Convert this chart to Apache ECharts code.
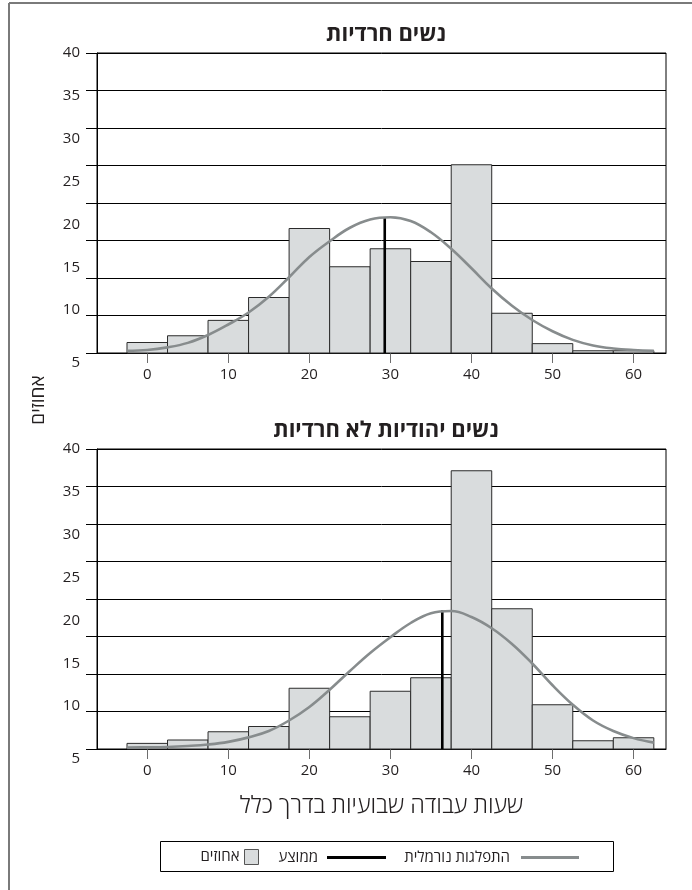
<!DOCTYPE html>
<html>
<head>
<meta charset="utf-8">
<script src="https://cdn.jsdelivr.net/npm/echarts@6/dist/echarts.min.js"></script>
<style>
html,body{margin:0;padding:0;background:#fff;}
#chart{width:692px;height:890px;}
</style>
</head>
<body>
<div id="chart"></div>
<script>
// ---------- data ----------
const binCenters = [0, 5, 10, 15, 20, 25, 30, 35, 40, 45, 50, 55, 60];
const binWidth = 5;
const harediPct    = [1.4, 2.3, 4.35, 7.4, 16.6, 11.5, 13.9, 12.2, 25.1, 5.3, 1.25, 0.3, 0.3];
const nonHarediPct = [0.75, 1.2, 2.3, 3.0, 8.1, 4.3, 7.7, 9.5, 37.1, 18.7, 5.9, 1.1, 1.5];

const curveX = [-2.5, 0, 2.5, 5, 7.5, 10, 12.5, 15, 17.5, 20, 22.5, 25, 27.5, 30, 32.5, 35, 37.5, 40, 42.5, 45, 47.5, 50, 52.5, 55, 57.5, 60, 62.5];
const harediCurve    = [0.3, 0.4, 0.75, 1.35, 2.4, 3.8, 5.4, 7.5, 10.1, 12.8, 14.9, 16.7, 17.8, 18.1, 17.6, 16.1, 13.9, 11.3, 8.6, 6.3, 4.4, 2.9, 1.75, 1.0, 0.6, 0.4, 0.3];
const nonHarediCurve = [0.2, 0.22, 0.27, 0.4, 0.6, 0.95, 1.55, 2.4, 3.8, 5.6, 7.9, 10.4, 12.8, 14.9, 16.8, 18.1, 18.4, 17.6, 16.1, 14.0, 11.4, 8.5, 5.9, 3.8, 2.4, 1.45, 0.85];

const harediMean = 29.3, harediMeanTop = 18.15;
const nonHarediMean = 36.4, nonHarediMeanTop = 18.5;

const xTicks = [0, 10, 20, 30, 40, 50, 60];
const titles = ['נשים חרדיות', 'נשים יהודיות לא חרדיות'];
const yName = 'אחוזים';
const xName = 'שעות עבודה שבועיות בדרך כלל';
const nameBars = 'אחוזים', nameMean = 'ממוצע', nameCurve = 'התפלגות נורמלית';

// ---------- styling ----------
const FONT = '"Open Sans", "DejaVu Sans", "Liberation Sans", sans-serif';
const TXT = '#231f20';
const BAR_FILL = '#d9dcdd';
const CURVE = '#878c8d';

const gridTops = [53, 449];
const PLOT_H = 300;

function xAxisFor(i, withName) {
  const ax = {
    gridIndex: i, type: 'value', min: -6.2, max: 64,
    axisLine: {show: true, onZero: false, lineStyle: {color: '#000', width: 1}},
    axisTick: {show: true, customValues: xTicks, length: 10, lineStyle: {color: '#6d6d6d', width: 1}},
    axisLabel: {customValues: xTicks, margin: 14, fontSize: 15, color: TXT, fontFamily: FONT},
    splitLine: {show: false}
  };
  if (withName) {
    ax.name = xName;
    ax.nameLocation = 'middle';
    ax.nameGap = 45;
    ax.nameTextStyle = {fontSize: 23.5, color: TXT, fontFamily: FONT, fontWeight: 300};
  }
  return ax;
}
function yGridAxis(i) {
  return {
    gridIndex: i, type: 'value', min: 0, max: 40, interval: 5, position: 'left',
    axisLine: {show: true, onZero: false, lineStyle: {color: '#000', width: 1}},
    axisTick: {show: true, length: 11, lineStyle: {color: '#000', width: 1}},
    axisLabel: {show: false},
    splitLine: {show: true, lineStyle: {color: '#000', width: 1}}
  };
}
function yLabelAxis(i) {
  return {
    gridIndex: i, type: 'value', min: 5, max: 40, interval: 5, position: 'left',
    axisLine: {show: false, onZero: false}, axisTick: {show: false}, splitLine: {show: false},
    axisLabel: {
      margin: 17, fontSize: 15, color: TXT, fontFamily: FONT,
      formatter: v => v === 5 ? '{low|5}' : String(v),
      rich: {low: {padding: [20, 0, 0, 0], fontSize: 15, color: TXT, fontFamily: FONT}}
    }
  };
}
function barSeries(i, values) {
  return {
    name: nameBars, type: 'custom', xAxisIndex: i, yAxisIndex: i * 2,
    itemStyle: {color: BAR_FILL, borderColor: '#2b2b2b', borderWidth: 1},
    data: binCenters.map((c, k) => [c, values[k]]),
    renderItem: (params, api) => {
      const c = api.value(0), v = api.value(1);
      const p1 = api.coord([c - binWidth / 2, v]);
      const p2 = api.coord([c + binWidth / 2, 0]);
      return {
        type: 'rect',
        shape: {x: p1[0], y: p1[1], width: p2[0] - p1[0], height: p2[1] - p1[1]},
        style: {fill: BAR_FILL, stroke: '#2b2b2b', lineWidth: 1}
      };
    },
    z: 2
  };
}
function meanSeries(i, m, top) {
  return {
    name: nameMean, type: 'line', xAxisIndex: i, yAxisIndex: i * 2,
    data: [[m, 0], [m, top]], symbol: 'none', showSymbol: false,
    lineStyle: {color: '#000', width: 2.6}, itemStyle: {color: '#000'}, z: 3
  };
}
function curveSeries(i, ys) {
  return {
    name: nameCurve, type: 'line', xAxisIndex: i, yAxisIndex: i * 2,
    data: curveX.map((x, k) => [x, ys[k]]), symbol: 'none', showSymbol: false, smooth: 0.4,
    lineStyle: {color: CURVE, width: 2.6}, itemStyle: {color: CURVE}, z: 4
  };
}

const legendText = {fontSize: 15, color: TXT, fontFamily: FONT};
const option = {
  animation: false,
  backgroundColor: '#fff',
  title: titles.map((t, i) => ({
    text: t, left: 381, top: gridTops[i] - 34, textAlign: 'center',
    textStyle: {fontSize: 22, fontWeight: 'bold', color: TXT, fontFamily: FONT}
  })),
  grid: gridTops.map(t => ({
    left: 97, right: 26, top: t, height: PLOT_H,
    show: true, borderColor: '#000', borderWidth: 1, backgroundColor: 'transparent'
  })),
  xAxis: [xAxisFor(0, false), xAxisFor(1, true)],
  yAxis: [yGridAxis(0), yLabelAxis(0), yGridAxis(1), yLabelAxis(1)],
  legend: [
    {data: [{name: nameCurve, icon: 'rect', itemStyle: {color: CURVE}}], right: 113, top: 850, itemWidth: 58, itemHeight: 3, itemGap: 0,
     align: 'right', padding: 0, selectedMode: false, textStyle: Object.assign({padding: [0, 6, 0, 0]}, legendText)},
    {data: [{name: nameMean, icon: 'rect', itemStyle: {color: '#000'}}], right: 306, top: 850, itemWidth: 59, itemHeight: 3, itemGap: 0,
     align: 'right', padding: 0, selectedMode: false, textStyle: Object.assign({padding: [0, 4, 0, 0]}, legendText)},
    {data: [{name: nameBars, icon: 'rect', itemStyle: {color: BAR_FILL, borderColor: '#555', borderWidth: 1}}],
     right: 433, top: 849, itemWidth: 14, itemHeight: 15, itemGap: 0,
     align: 'right', padding: 0, selectedMode: false, textStyle: legendText}
  ],
  graphic: [
    {type: 'line', shape: {x1: 9, y1: 3, x2: 692, y2: 3}, style: {stroke: '#7a7a7a', lineWidth: 2}, silent: true},
    {type: 'line', shape: {x1: 9, y1: 3, x2: 9, y2: 890}, style: {stroke: '#7a7a7a', lineWidth: 2}, silent: true},
    {type: 'rect', shape: {x: 160.5, y: 841.5, width: 453, height: 30}, style: {fill: 'none', stroke: '#000', lineWidth: 1}, silent: true},
    {type: 'text', x: 39, y: 400, rotation: Math.PI / 2,
     style: {text: yName, fontSize: 19, fill: TXT, fontFamily: FONT, align: 'center', verticalAlign: 'middle'}, silent: true}
  ],
  series: [
    barSeries(0, harediPct), meanSeries(0, harediMean, harediMeanTop), curveSeries(0, harediCurve),
    barSeries(1, nonHarediPct), meanSeries(1, nonHarediMean, nonHarediMeanTop), curveSeries(1, nonHarediCurve)
  ]
};

const chart = echarts.init(document.getElementById('chart'));
chart.setOption(option);
</script>
</body>
</html>
